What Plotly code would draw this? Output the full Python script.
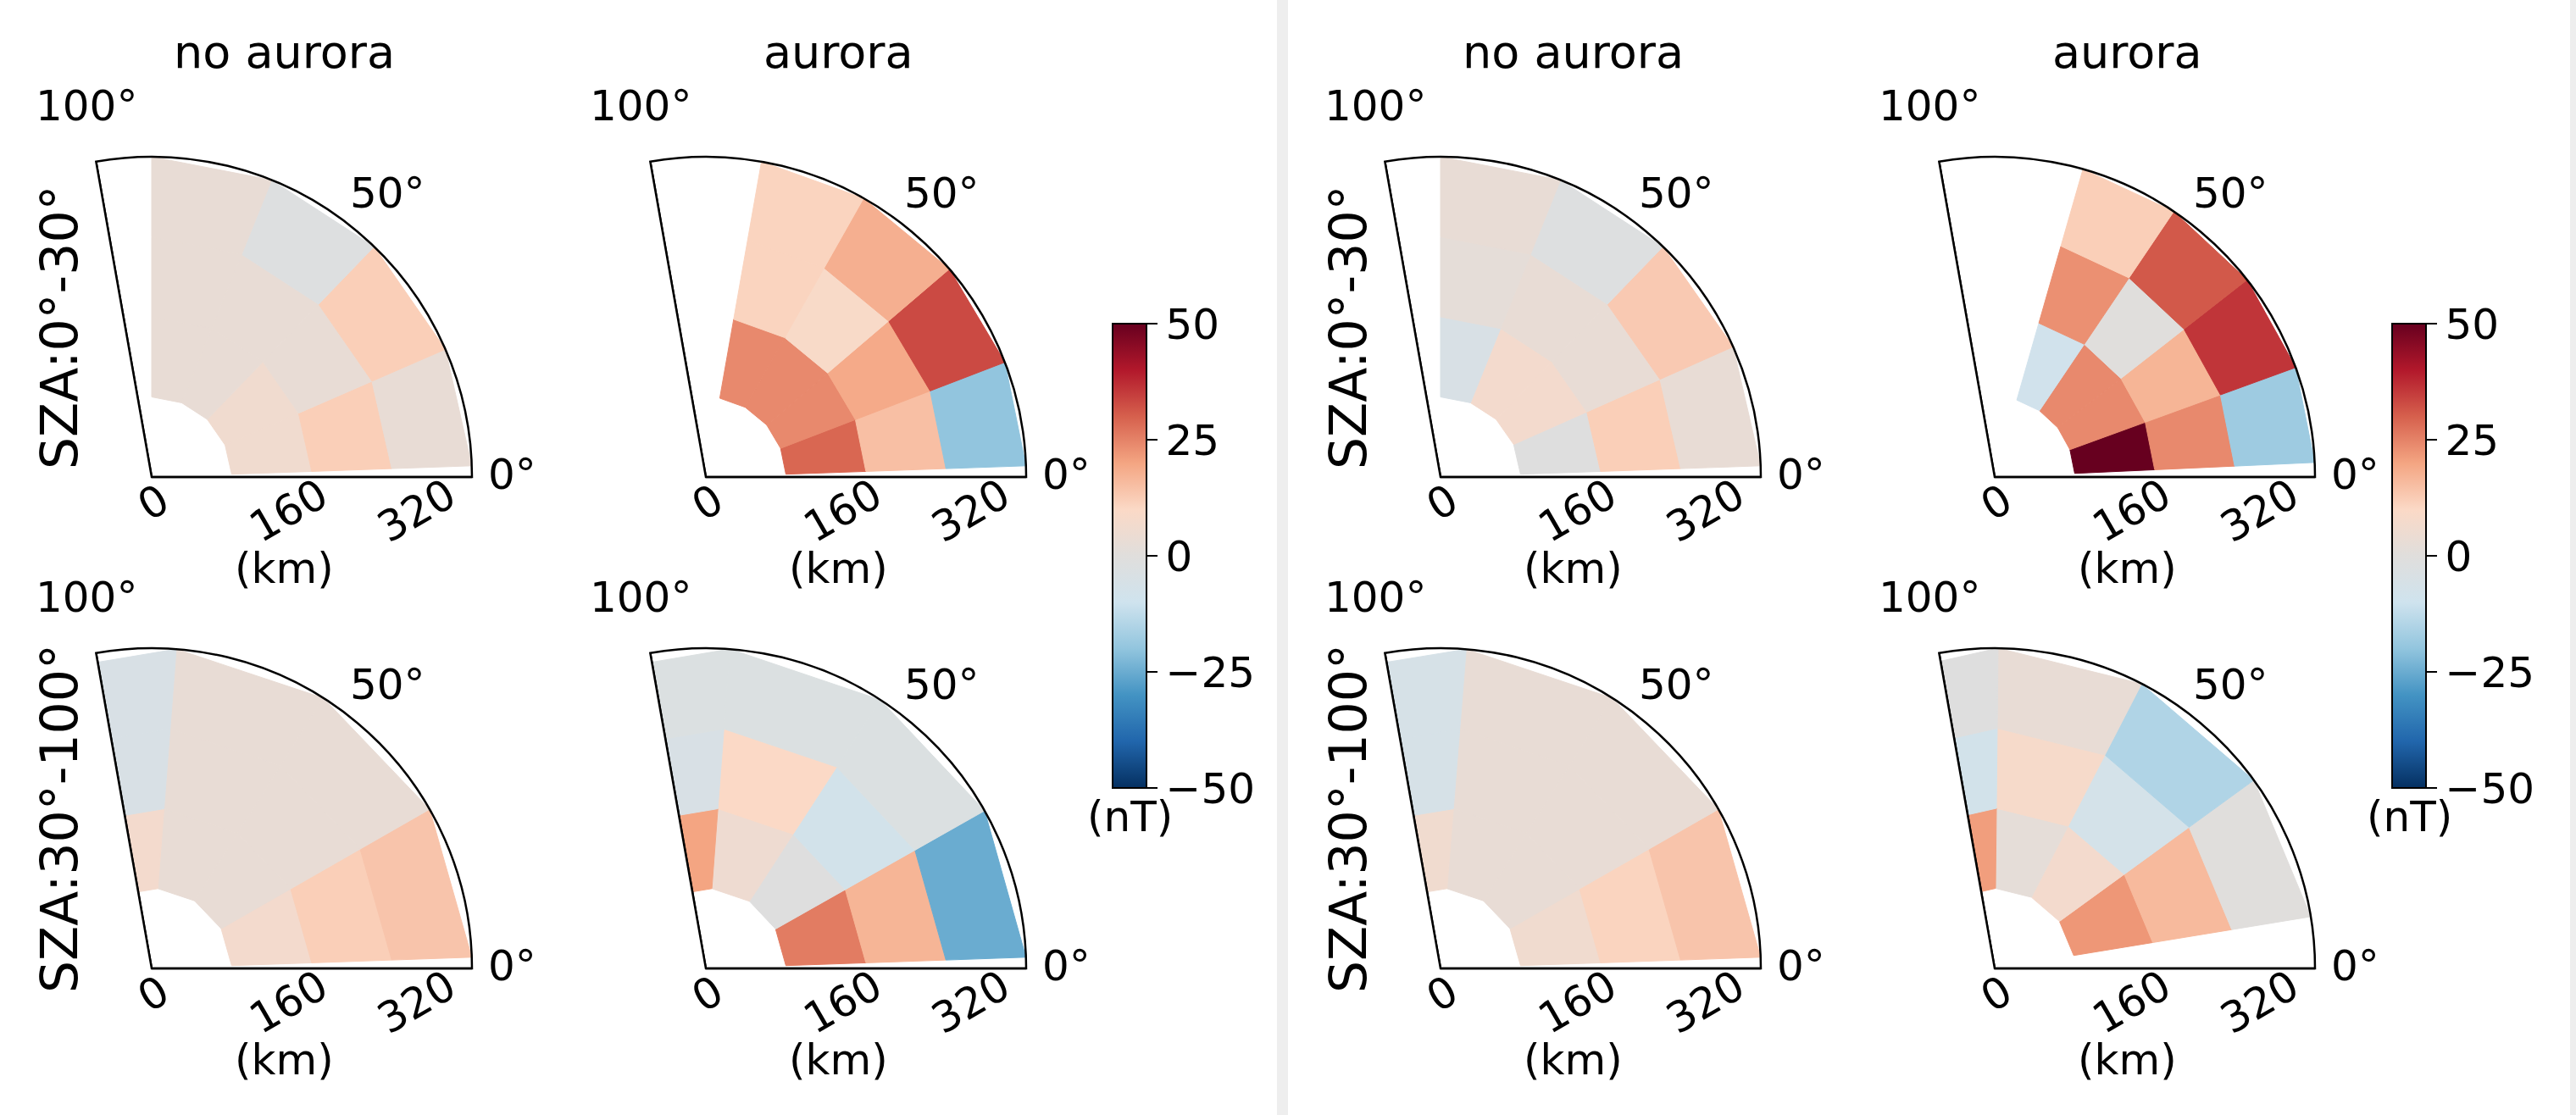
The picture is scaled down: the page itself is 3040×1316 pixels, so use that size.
import math
import plotly.graph_objects as go
from plotly.colors import sample_colorscale

# ---------------------------------------------------------------- data
R_EDGES = [100, 200, 300, 400]          # radial bin edges (km)
R_MAX = 400
R_TICKS = [0, 160, 320]
THETA_TICKS = [0, 50, 100]
SECTOR = [0, 100]
CBAR_TICKS = [-50, -25, 0, 25, 50]
V_MIN, V_MAX = -50, 50

COL_TITLES = ["no aurora", "aurora"]
ROW_TITLES = ["SZA:0°-30°", "SZA:30°-100°"]

# angular bin edges (deg) and cell values (nT); rows = angular bins, cols = radial bins
A_NOAUR_SZA0_THETA = [2, 23.5, 46, 68, 90]
A_NOAUR_SZA0_VALUES = [[6, 12, 3], [6, 3, 12], [3, 3, -2], [3, 3, 3]]
A_AUR_SZA0_THETA = [2, 21, 40.5, 60.5, 80]
A_AUR_SZA0_VALUES = [[29, 15, -20], [24, 19, 33], [24, 9, 18], [24, 11, 11]]
A_NOAUR_SZA30_THETA = [2, 29.8, 57.6, 85.6, 113.4]
A_NOAUR_SZA30_VALUES = [[7, 12, 14], [3, 3, 3], [3, 3, 3], [7, -5, -5]]
A_AUR_SZA30_THETA = [2, 29.5, 57, 85.7, 113.4]
A_AUR_SZA30_VALUES = [[26, 17, -25], [-1, -8, -3], [5, 10, -3], [20, -5, -3]]

B_NOAUR_SZA0_THETA = [2, 24, 46, 68, 90]
B_NOAUR_SZA0_VALUES = [[-1, 12, 3], [7, 3, 13], [7, 3, -2], [-5, 2, 3]]
B_AUR_SZA0_THETA = [2.6, 20, 38, 56, 74]
B_AUR_SZA0_VALUES = [[52, 24, -18], [24, 17, 36], [24, 0, 31], [-9, 23, 12]]
B_NOAUR_SZA30_THETA = [2, 29.8, 57.6, 85.4, 113.2]
B_NOAUR_SZA30_VALUES = [[6, 11, 14], [3, 3, 3], [3, 3, 3], [6, -6, -6]]
B_AUR_SZA30_THETA = [9.3, 36, 62.7, 89.4, 116.1]
B_AUR_SZA30_VALUES = [[22, 16, 0], [7, -7, -15], [2, 8, 3], [21, -8, -1]]

PANELS = [
    [[(A_NOAUR_SZA0_THETA, A_NOAUR_SZA0_VALUES), (A_AUR_SZA0_THETA, A_AUR_SZA0_VALUES)],
     [(A_NOAUR_SZA30_THETA, A_NOAUR_SZA30_VALUES), (A_AUR_SZA30_THETA, A_AUR_SZA30_VALUES)]],
    [[(B_NOAUR_SZA0_THETA, B_NOAUR_SZA0_VALUES), (B_AUR_SZA0_THETA, B_AUR_SZA0_VALUES)],
     [(B_NOAUR_SZA30_THETA, B_NOAUR_SZA30_VALUES), (B_AUR_SZA30_THETA, B_AUR_SZA30_VALUES)]],
]

# diverging red-blue scale with a soft grey midpoint
CSCALE = [
    [0.0, "rgb(5,48,97)"], [0.1, "rgb(33,102,172)"], [0.2, "rgb(67,147,195)"],
    [0.3, "rgb(146,197,222)"], [0.4, "rgb(207,227,238)"], [0.5, "rgb(224,222,220)"],
    [0.6, "rgb(251,217,198)"], [0.7, "rgb(244,165,130)"], [0.8, "rgb(214,96,77)"],
    [0.9, "rgb(178,24,43)"], [1.0, "rgb(103,0,31)"],
]

# ---------------------------------------------------------------- geometry (px)
W, H = 3040, 1316
FONT = "DejaVu Sans"
PANEL_DX = [0, 1521]
SECTOR_CX = [179, 833]
SECTOR_CY = [563, 1143]
SECTOR_R = 378
COS100 = math.cos(math.radians(SECTOR[1]))
CBAR_X = [1313, 2823]
CBAR_TOP = 382
CBAR_LEN = 548
CBAR_THICK = 40
TICKFONT = dict(size=50, color="black", family=FONT)


def px_x(x):
    return x / W


def px_y(y):
    return 1 - y / H


def cell_color(v):
    t = (min(max(v, V_MIN), V_MAX) - V_MIN) / (V_MAX - V_MIN)
    return sample_colorscale(CSCALE, [t])[0]


def text_ann(x, y, text, size=50, angle=0):
    return dict(x=px_x(x), y=px_y(y), text=text, xref="paper", yref="paper",
                showarrow=False, xanchor="center", yanchor="middle", textangle=angle,
                font=dict(size=size, color="black", family=FONT))


fig = go.Figure()
layout_polars = {}
annotations = []
idx = 0

for p, panel in enumerate(PANELS):
    centers_r, centers_t, centers_v = [], [], []
    first_pid = None
    for row in range(2):
        for col in range(2):
            idx += 1
            pid = "polar" if idx == 1 else f"polar{idx}"
            if first_pid is None:
                first_pid = pid
            theta_edges, values = panel[row][col]
            cx = PANEL_DX[p] + SECTOR_CX[col]
            cy = SECTOR_CY[row]

            for i in range(len(theta_edges) - 1):
                for j in range(len(R_EDGES) - 1):
                    v = values[i][j]
                    t0, t1 = theta_edges[i], theta_edges[i + 1]
                    r0, r1 = R_EDGES[j], R_EDGES[j + 1]
                    c = cell_color(v)
                    fig.add_trace(go.Scatterpolar(
                        r=[r0, r1, r1, r0, r0], theta=[t0, t0, t1, t1, t0],
                        mode="lines", fill="toself", fillcolor=c,
                        line=dict(color=c, width=1), subplot=pid,
                        showlegend=False, hoverinfo="text",
                        text=f"{v} nT"))
                    centers_r.append((r0 + r1) / 2)
                    centers_t.append((t0 + t1) / 2)
                    centers_v.append(v)

            # closing edge of the sector frame
            fig.add_trace(go.Scatterpolar(
                r=[0, R_MAX], theta=[SECTOR[1], SECTOR[1]], mode="lines",
                line=dict(color="black", width=2.5), cliponaxis=False,
                subplot=pid, showlegend=False, hoverinfo="skip"))

            layout_polars[pid] = dict(
                domain=dict(x=[px_x(cx + SECTOR_R * COS100), px_x(cx + SECTOR_R)],
                            y=[px_y(cy), px_y(cy - SECTOR_R)]),
                sector=SECTOR, bgcolor="white",
                radialaxis=dict(range=[0, R_MAX], tickvals=R_TICKS, showgrid=False,
                                showline=True, linecolor="black", linewidth=2.5,
                                ticks="", angle=0, showticklabels=False),
                angularaxis=dict(tickvals=THETA_TICKS, showgrid=False, showline=True,
                                 linecolor="black", linewidth=2.5, ticks="",
                                 direction="counterclockwise", rotation=0,
                                 showticklabels=False),
            )

            # radial tick labels, slanted, under the 0° edge
            for rt in R_TICKS:
                x_t = cx + rt * SECTOR_R / R_MAX
                short = len(str(rt)) == 1
                annotations.append(text_ann(x_t + (2 if short else 10),
                                            cy + (30 if short else 40),
                                            str(rt), angle=-30))
            # angular tick labels just outside the arc
            for tt in THETA_TICKS:
                d = SECTOR_R + 47 + 0.17 * tt
                a = math.radians(tt)
                annotations.append(text_ann(cx + d * math.cos(a), cy - 3 - d * math.sin(a),
                                            f"{tt}°"))

            box_cx = cx + SECTOR_R * (1 + COS100) / 2
            if row == 0:
                annotations.append(text_ann(box_cx, 62, COL_TITLES[col], size=54))
            if col == 0:
                annotations.append(text_ann(cx - 109, cy - 177,
                                            ROW_TITLES[row], size=60, angle=-90))
            annotations.append(text_ann(box_cx, cy + 108, "(km)"))

    # colour scale for this panel, carried by an invisible marker trace
    fig.add_trace(go.Scatterpolar(
        r=centers_r, theta=centers_t, mode="markers", subplot=first_pid,
        opacity=0, showlegend=False, hoverinfo="skip",
        marker=dict(size=1, color=centers_v, colorscale=CSCALE, cmin=V_MIN, cmax=V_MAX,
                    showscale=True,
                    colorbar=dict(
                        x=px_x(CBAR_X[p]), xanchor="left", xpad=0,
                        y=px_y(CBAR_TOP), yanchor="top", ypad=0,
                        len=CBAR_LEN, lenmode="pixels",
                        thickness=CBAR_THICK, thicknessmode="pixels",
                        outlinewidth=2, outlinecolor="black",
                        tickvals=CBAR_TICKS,
                        ticktext=[str(t).replace("-", "\u2212") for t in CBAR_TICKS],
                        ticks="outside", ticklen=12, tickwidth=2, tickcolor="black",
                        tickfont=TICKFONT))))
    annotations.append(text_ann(CBAR_X[p] + CBAR_THICK / 2, CBAR_TOP + CBAR_LEN + 34,
                                "(nT)"))

shapes = [
    dict(type="rect", xref="paper", yref="paper", x0=px_x(1507), x1=px_x(1520),
         y0=0, y1=1, fillcolor="#eeeeee", line=dict(width=0), layer="below"),
    dict(type="rect", xref="paper", yref="paper", x0=px_x(3033), x1=1,
         y0=0, y1=1, fillcolor="#eeeeee", line=dict(width=0), layer="below"),
]

fig.update_layout(
    width=W, height=H, autosize=False,
    margin=dict(l=0, r=0, t=0, b=0),
    paper_bgcolor="white", plot_bgcolor="white",
    font=dict(family=FONT, color="black"),
    annotations=annotations, shapes=shapes,
    **layout_polars,
)

fig.write_html("out.html")
